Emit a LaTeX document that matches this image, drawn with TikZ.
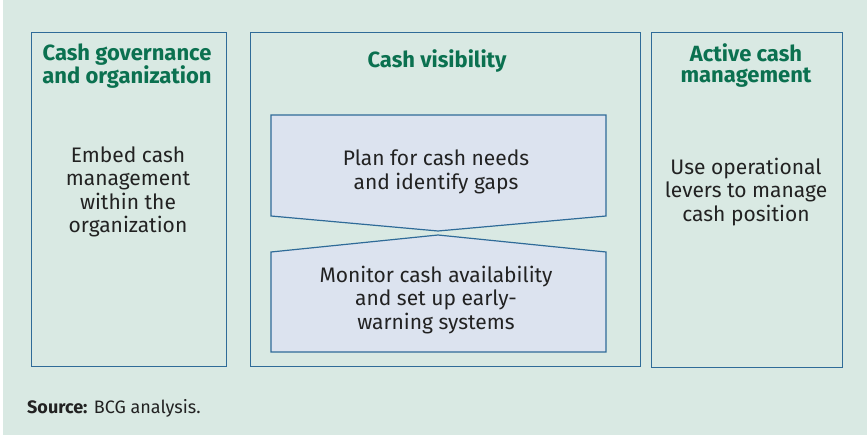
\documentclass[tikz,border=0pt]{standalone}
\usepackage{fontspec}
\setmainfont{Fira Sans}
\usepackage{tikz}
\usetikzlibrary{positioning}
\usepackage{xcolor}
\definecolor{mint}{HTML}{D9E9E3}
\definecolor{frameblue}{HTML}{2F6B98}
\definecolor{lilac}{HTML}{DCE3EF}
\definecolor{bcggreen}{HTML}{0B7150}
\definecolor{inkgray}{HTML}{222222}

\begin{document}
\begin{tikzpicture}[x=1pt, y=-1pt,
        pillarBox/.style={draw=frameblue, line width=1.4pt, anchor=north west, inner sep=0pt},
        pillarTitle/.style={text=bcggreen, font=\fontsize{22}{21}\selectfont\bfseries, align=center},
        pillarText/.style={text=inkgray, font=\fontsize{21}{23.5}\selectfont, align=center},
        stepShape/.style={draw=frameblue, fill=lilac, line width=1.2pt, line join=miter}
    ]
        % Canvas
        \fill[white] (0,0) rectangle (867,435);
        \fill[mint] (3,0) rectangle (867,435);
        \useasboundingbox (0,0) rectangle (867,435);

        % Left column: governance
        \node[pillarBox, minimum width=195pt, minimum height=334pt] (govBox) at (31,32) {};
        \node[pillarTitle] (govTitle) at (127,66) {Cash governance\\and organization};
        \node[pillarText] (govText) at (128,192) {Embed cash\\management\\within the\\organization};

        % Middle column: visibility
        \node[pillarBox, minimum width=390pt, minimum height=334pt] (visBox) at (250,32) {};
        \node[pillarTitle] (visTitle) at (437,61) {Cash visibility};

        % Two stacked chevrons
        \draw[stepShape] (271,115) -- (606,115) -- (606,216) -- (438,231) -- (271,216) -- cycle;
        \node[pillarText] (planText) at (436,172) {Plan for cash needs\\and identify gaps};
        \draw[stepShape] (271,252) -- (438,235) -- (606,252) -- (606,352) -- (271,352) -- cycle;
        \node[pillarText] (monText) at (436,300) {Monitor cash availability\\and set up early-\\warning systems};

        % Right column: active management
        \node[pillarBox, minimum width=191pt, minimum height=335pt] (actBox) at (651,32) {};
        \node[pillarTitle] (actTitle) at (746,66) {Active cash\\management};
        \node[pillarText] (actText) at (746,192) {Use operational\\levers to manage\\cash position};

        % Footnote
        \node[anchor=west, text=inkgray, font=\fontsize{18}{20}\selectfont, inner sep=0pt] (srcNote) at (27,408) {\textbf{Source:} BCG analysis.};
    \end{tikzpicture}
\end{document}
